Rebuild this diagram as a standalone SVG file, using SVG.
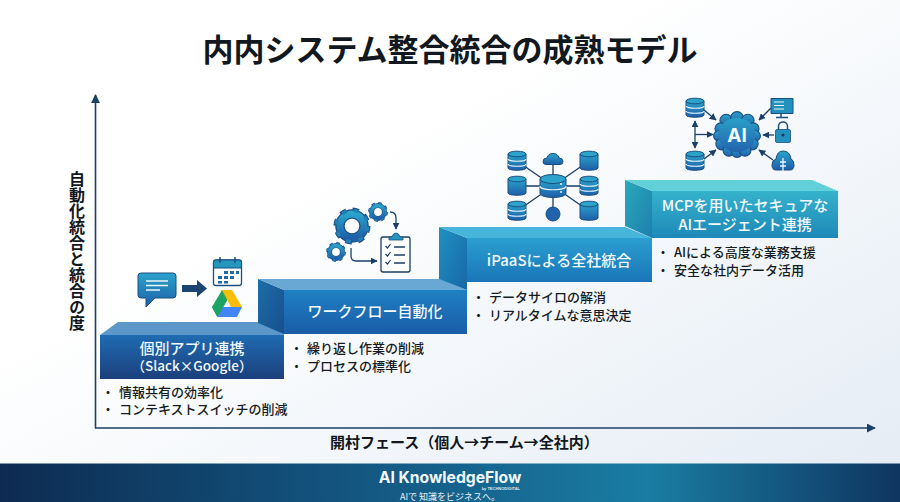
<svg xmlns="http://www.w3.org/2000/svg" xmlns:xlink="http://www.w3.org/1999/xlink" width="900" height="502" viewBox="0 0 900 502">
<defs>
<linearGradient id="bg" x1="0" y1="0" x2="1" y2="1"><stop offset="0.35" stop-color="#ffffff"/><stop offset="1" stop-color="#e3ebf4"/></linearGradient>
<linearGradient id="foot" x1="0" y1="0" x2="1" y2="0"><stop offset="0" stop-color="#0d2b52"/><stop offset="0.5" stop-color="#15628d"/><stop offset="0.72" stop-color="#1a7da3"/><stop offset="1" stop-color="#0f3560"/></linearGradient>
<linearGradient id="f1" x1="0" y1="0" x2="0" y2="1"><stop offset="0" stop-color="#1f6cb2"/><stop offset="1" stop-color="#1c3f7c"/></linearGradient>
<linearGradient id="f2" x1="0" y1="0" x2="0" y2="1"><stop offset="0" stop-color="#1f80c4"/><stop offset="1" stop-color="#1a5ca6"/></linearGradient>
<linearGradient id="f3" x1="0" y1="0" x2="0" y2="1"><stop offset="0" stop-color="#2b9fd0"/><stop offset="1" stop-color="#1a75b8"/></linearGradient>
<linearGradient id="f4" x1="0" y1="0" x2="0" y2="1"><stop offset="0" stop-color="#35b2cc"/><stop offset="1" stop-color="#1e88b8"/></linearGradient>
<linearGradient id="s2" x1="0" y1="0" x2="1" y2="1"><stop offset="0" stop-color="#1d6ea8"/><stop offset="1" stop-color="#174f8e"/></linearGradient>
<linearGradient id="s3" x1="0" y1="0" x2="1" y2="1"><stop offset="0" stop-color="#2091c2"/><stop offset="1" stop-color="#1767a6"/></linearGradient>
<linearGradient id="s4" x1="0" y1="0" x2="1" y2="1"><stop offset="0" stop-color="#2aa9ba"/><stop offset="1" stop-color="#1d7fae"/></linearGradient>
<linearGradient id="ic" x1="0" y1="0" x2="0" y2="1"><stop offset="0" stop-color="#2ba3cb"/><stop offset="1" stop-color="#1d5fa8"/></linearGradient>
<linearGradient id="brain" x1="0" y1="0" x2="0" y2="1"><stop offset="0" stop-color="#2aa0c8"/><stop offset="1" stop-color="#2263ae"/></linearGradient>
<marker id="ah" viewBox="0 0 10 10" refX="9" refY="5" markerWidth="9" markerHeight="9" markerUnits="userSpaceOnUse" orient="auto-start-reverse"><path d="M0 0L10 5L0 10Z" fill="#1b3f66"/></marker>
<marker id="ahs" viewBox="0 0 10 10" refX="9" refY="5" markerWidth="7" markerHeight="7" markerUnits="userSpaceOnUse" orient="auto-start-reverse"><path d="M0 0L10 5L0 10Z" fill="#1b3f66"/></marker>
<g id="db">
<path d="M-9 -7V7C-9 10 9 10 9 7V-7Z" fill="url(#ic)" stroke="#1b4f80" stroke-width="1"/>
<ellipse cx="0" cy="-7" rx="9" ry="2.8" fill="#2ba3cb" stroke="#1b4f80" stroke-width="1"/>
<path d="M-9 -2C-9 1 9 1 9 -2M-9 3C-9 6 9 6 9 3" fill="none" stroke="#e8f4fa" stroke-width="1.2"/>
</g>
<g id="dbp">
<path d="M-9 -7V7C-9 10 9 10 9 7V-7Z" fill="url(#ic)" stroke="#1b4f80" stroke-width="1"/>
<ellipse cx="0" cy="-7" rx="9" ry="2.8" fill="#2ba3cb" stroke="#1b4f80" stroke-width="1"/>
</g>
<g id="gear">
<circle r="14" fill="none" stroke="#1c4f86" stroke-width="11"/>
<circle r="18.5" fill="none" stroke="#1c4f86" stroke-width="6" stroke-dasharray="7.27 7.27"/>
<circle r="14" fill="none" stroke="url(#ic)" stroke-width="8"/>
<circle r="18.3" fill="none" stroke="#2280b8" stroke-width="4" stroke-dasharray="5.5 9.04" stroke-dashoffset="-0.9"/>
</g>
</defs>
<style>
.t{font-family:"Noto Sans CJK JP","Noto Sans",sans-serif}
.lb{font-family:"Noto Sans CJK JP","Noto Sans",sans-serif;font-size:15px;font-weight:500;fill:#f2f8fc;text-anchor:middle}
.bl{font-family:"Noto Sans CJK JP","Noto Sans",sans-serif;font-size:13px;font-weight:500;fill:#151b22}
.axis{stroke:#1b3f66;stroke-width:1.6;fill:none}
.ln{stroke:#1b3f66;stroke-width:1.3;fill:none}
.la{stroke:#1b3f66;stroke-width:1.3;fill:none;marker-end:url(#ahs)}
.la2{stroke:#1b3f66;stroke-width:1.3;fill:none;marker-end:url(#ahs);marker-start:url(#ahs)}
</style>
<rect width="900" height="502" fill="url(#bg)"/>
<text class="t" x="450" y="61" text-anchor="middle" font-size="31" font-weight="700" fill="#111820">内内システム整合統合の成熟モデル</text>

<g id="connectors">
<path class="axis" d="M95.500 428V95" marker-end="url(#ah)"/>
<path class="axis" d="M95 428H875" marker-end="url(#ah)"/>
</g>
<text class="t" x="77" y="171" writing-mode="vertical-rl" font-size="16" font-weight="700" fill="#111820">自動化統合と統合の度</text>
<text class="t" x="330" y="448" font-size="15" font-weight="700" fill="#111820">開村フェース（個人→チーム→全社内）</text>

<g id="step1">
<path d="M100 335L118 322H284V335Z" fill="#5b97c8"/>
<rect x="100" y="335" width="184" height="44" fill="url(#f1)"/>
<text class="lb" x="192" y="353.500">個別アプリ連携<tspan x="192" y="371" style="font-size:13.5px">（Slack×Google）</tspan></text>
<text class="bl"><tspan x="101.500" y="397">・</tspan><tspan x="119" y="397">情報共有の効率化</tspan><tspan x="101.500" y="414">・</tspan><tspan x="119" y="414">コンテキストスイッチの削減</tspan></text>
</g>
<g id="step2">
<path d="M258 279L284 290V334L258 323Z" fill="url(#s2)"/>
<path d="M258 279H440L467 290H284Z" fill="#69a8d4"/>
<rect x="284" y="290" width="183" height="44" fill="url(#f2)"/>
<text class="lb" x="375" y="317">ワークフロー自動化</text>
<text class="bl"><tspan x="290" y="353">・</tspan><tspan x="307" y="353">繰り返し作業の削減</tspan><tspan x="290" y="371">・</tspan><tspan x="307" y="371">プロセスの標準化</tspan></text>
</g>
<g id="step3">
<path d="M439 227L467 238V290L439 279Z" fill="url(#s3)"/>
<path d="M439 227H625L652 238H467Z" fill="#47b5dc"/>
<rect x="467" y="238" width="185" height="44" fill="url(#f3)"/>
<text class="lb" x="559" y="266">iPaaSによる全社統合</text>
<text class="bl"><tspan x="472" y="302">・</tspan><tspan x="489" y="302">データサイロの解消</tspan><tspan x="472" y="320">・</tspan><tspan x="489" y="320">リアルタイムな意思決定</tspan></text>
</g>
<g id="step4">
<path d="M625 180L652 191V238L625 226Z" fill="url(#s4)"/>
<path d="M625 180H812L838 191H652Z" fill="#62d0d8"/>
<rect x="652" y="191" width="186" height="47" fill="url(#f4)"/>
<text class="lb" x="745" y="211">MCPを用いたセキュアな<tspan x="745" y="230">AIエージェント連携</tspan></text>
<text class="bl"><tspan x="656.500" y="257">・</tspan><tspan x="674" y="257">AIによる高度な業務支援</tspan><tspan x="656.500" y="275">・</tspan><tspan x="674" y="275">安全な社内データ活用</tspan></text>
</g>

<g id="icon-apps">
<path d="M141 273H173Q176 273 176 276V295Q176 298 173 298H155L146 307V298H141Q138 298 138 295V276Q138 273 141 273Z" fill="url(#ic)" stroke="#1b4f80" stroke-width="1"/>
<path d="M146 281H168M146 285.500H168M146 290H160" stroke="#eaf6fb" stroke-width="1.500" fill="none"/>
<path d="M182 285H197V280L207 288.500L197 297V292H182Z" fill="#1b4470"/>
<rect x="213.500" y="260" width="28" height="25.500" rx="2.500" fill="#fff" stroke="#1b4f80" stroke-width="1.300"/>
<path d="M213.500 268V262.500Q213.500 260 216 260H239Q241.500 260 241.500 262.500V268Z" fill="#2596be" stroke="#1b4f80" stroke-width="1"/>
<path d="M220 257V263M235 257V263" stroke="#1b4f80" stroke-width="1.500"/>
<path d="M224 271h4v3h-4zM230 271h4v3h-4zM236 271h3v3h-3zM218 276h4v3h-4zM224 276h4v3h-4zM230 276h4v3h-4zM218 281h4v2.500h-4zM224 281h4v2.500h-4z" fill="#1d6aa8"/>
<path d="M222 290H232L224 304L217 304Z" fill="#1ea362"/>
<path d="M222 290L212 307L217.500 317L228 299Z" fill="#1ea362"/>
<path d="M222 290H232L242 307H231Z" fill="#fbbc04"/>
<path d="M219 307H242L237 317H217.500L212 307Z" fill="#4285f4"/>
<path d="M212 307L217.500 317L222.500 308L219 303Z" fill="#1ea362"/>
</g>

<g id="icon-workflow">
<use xlink:href="#gear" href="#gear" transform="translate(352 226) scale(0.86)"/>
<use xlink:href="#gear" href="#gear" transform="translate(378 212) scale(0.46)"/>
<use xlink:href="#gear" href="#gear" transform="translate(336 252) scale(0.46)"/>
<path class="la" d="M390 212Q396 212 396 218V229"/>
<path class="la" d="M351 248V256Q351 261 356 261H377"/>
<rect x="381" y="237" width="29" height="35" rx="2" fill="#fff" stroke="#1b3f66" stroke-width="1.300"/>
<path d="M389 240V237H392Q393 233 396 233Q399 233 400 237H403V240Z" fill="#2596be" stroke="#1b4f80" stroke-width="0.800"/>
<path d="M385.500 246L387.500 248L390.500 244M385.500 254L387.500 256L390.500 252M385.500 262L387.500 264L390.500 260" fill="none" stroke="#1b3f66" stroke-width="1.200"/>
<path d="M394 247H405M394 255H405M394 263H405" stroke="#1b3f66" stroke-width="1.300"/>
</g>

<g id="icon-ipaas">
<path class="ln" d="M517 161L553 186M589 161L553 186M517 186H589M517 211L553 186M589 211L553 186M553 159V214"/>
<use xlink:href="#db" href="#db" x="517" y="161"/>
<use xlink:href="#dbp" href="#dbp" x="589" y="161"/>
<use xlink:href="#dbp" href="#dbp" x="517" y="186"/>
<use xlink:href="#db" href="#db" x="589" y="186"/>
<use xlink:href="#db" href="#db" x="517" y="211"/>
<use xlink:href="#dbp" href="#dbp" x="589" y="211"/>
<path d="M546 164.500Q543 164.500 543 161.500Q543 158 547 158Q548 153.500 553 153.500Q558 153.500 559 158Q563 158 563 161.500Q563 164.500 560 164.500Z" fill="url(#ic)" stroke="#1b4f80" stroke-width="1"/>
<circle cx="553" cy="214" r="7" fill="#2263ae" stroke="#1b4f80" stroke-width="1"/>
<path d="M540 179V193C540 199 566 199 566 193V179Z" fill="url(#ic)" stroke="#1b4f80" stroke-width="1"/>
<ellipse cx="553" cy="179" rx="13" ry="4.500" fill="#2ba3cb" stroke="#1b4f80" stroke-width="1"/>
<path d="M540 186C540 191 566 191 566 186" fill="none" stroke="#e8f4fa" stroke-width="1.200"/>
<circle cx="561" cy="184" r="0.900" fill="#fff"/><circle cx="561" cy="192" r="0.900" fill="#fff"/>
</g>

<g id="icon-ai">
<path class="la2" d="M695 121V148"/>
<path class="la" d="M695 134.500H713"/>
<path class="la" d="M704 110L716 120"/>
<path class="la" d="M704 159L716 150"/>
<path class="la" d="M771 108L759 120"/>
<path class="la" d="M774 135H763"/>
<path class="la" d="M773 160L759 150"/>
<use xlink:href="#db" href="#db" x="695" y="108"/>
<use xlink:href="#db" href="#db" x="695" y="161"/>
<g transform="translate(737 135) scale(0.9) translate(-737 -135)">
<g fill="url(#brain)" stroke="#1b4f80" stroke-width="1.200">
<circle cx="725" cy="119" r="7"/><circle cx="737" cy="116" r="7"/><circle cx="749" cy="119" r="7"/>
<circle cx="719" cy="128" r="6.500"/><circle cx="755" cy="128" r="6.500"/>
<circle cx="717" cy="136" r="6"/><circle cx="757" cy="136" r="6"/>
<circle cx="720" cy="145" r="6.500"/><circle cx="754" cy="145" r="6.500"/>
<circle cx="728" cy="152" r="6.500"/><circle cx="737" cy="154" r="6"/><circle cx="746" cy="152" r="6.500"/>
</g>
<ellipse cx="737" cy="135" rx="21" ry="19" fill="url(#brain)"/>
</g>
<text x="737" y="142" text-anchor="middle" font-family="Inter,'Liberation Sans',sans-serif" font-size="19" font-weight="700" fill="#f2fbff">AI</text>
<path d="M771 98.500H793V113.500H771Z" fill="#2291bd" stroke="#1b4f80" stroke-width="1"/>
<path d="M774 102H784M774 105.500H784M774 109H784" stroke="#eaf6fb" stroke-width="1.200"/>
<path d="M781 113.500V117M776 117.500H788" stroke="#1b4f80" stroke-width="1.500"/>
<path d="M778.500 130V126.500C778.500 120.500 787.500 120.500 787.500 126.500V130" fill="none" stroke="#1b4f80" stroke-width="1.500"/>
<rect x="775.500" y="129.500" width="15" height="13" rx="1.500" fill="#2291bd" stroke="#1b4f80" stroke-width="0.800"/>
<circle cx="783" cy="135" r="1.600" fill="#123a62"/>
<path d="M776 170Q772 170 772 165Q772 160 776 159Q777 151 783 151Q790 151 791 159Q794 160 794 165Q794 170 790 170Z" fill="url(#ic)" stroke="#1b4f80" stroke-width="1"/>
<path d="M783 158V171M780 162H786M780 166H786" stroke="#eaf6fb" stroke-width="1.300"/>
</g>

<g id="footer">
<rect y="463.500" width="900" height="38.500" fill="url(#foot)"/>
<text x="450" y="483" text-anchor="middle" font-family="Inter,'Liberation Sans',sans-serif" font-size="15.700" font-weight="700" fill="#f4f8fb">AI KnowledgeFlow</text>
<text x="520" y="489.500" text-anchor="end" font-family="'Liberation Sans',sans-serif" font-size="4" font-weight="700" fill="#dfeaf2">by TECHNODIGITAL</text>
<text class="t" x="450" y="500" text-anchor="middle" font-size="9" fill="#eaf2f7">AIで 知識をビジネスへ。</text>
</g>
</svg>
